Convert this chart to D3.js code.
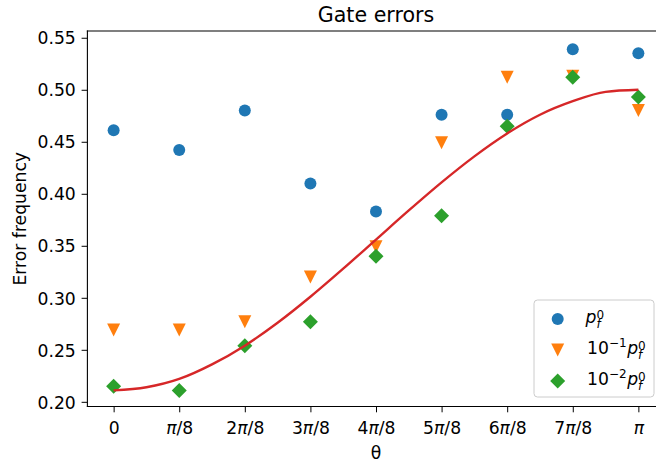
<!DOCTYPE html>
<html>
<head>
<meta charset="utf-8">
<script src="https://cdn.jsdelivr.net/npm/d3@7"></script>
<style>
  html, body { margin: 0; padding: 0; background: #fff; }
  svg { display: block; font-family: "DejaVu Sans", sans-serif; }
</style>
</head>
<body>
<svg id="chart" width="656" height="462"></svg>
<script>
// Gate angle in steps of π/8, with the tick labels shown under each step
const thetaSteps = [0, 1, 2, 3, 4, 5, 6, 7, 8];
const thetaLabels = ["0", "π/8", "2π/8", "3π/8", "4π/8", "5π/8", "6π/8", "7π/8", "π"];

// Measured error frequencies for the three noise scalings
const errP0    = [0.461, 0.442, 0.480, 0.410, 0.383, 0.476, 0.476, 0.539, 0.535];
const errP0e1  = [0.269, 0.269, 0.277, 0.320, 0.349, 0.449, 0.512, 0.513, 0.480];
const errP0e2  = [0.215, 0.211, 0.254, 0.277, 0.340, 0.379, 0.465, 0.512, 0.493];

// Expected error curve, sampled every π/16
const curveSteps  = [0, 1, 2, 3, 4, 5, 6, 7, 8, 9, 10, 11, 12, 13, 14, 15, 16];
const curveValues = [0.211, 0.214, 0.222, 0.236, 0.254, 0.276, 0.301, 0.328, 0.356,
                     0.384, 0.411, 0.436, 0.458, 0.476, 0.489, 0.498, 0.500];

const yTickValues = [0.20, 0.25, 0.30, 0.35, 0.40, 0.45, 0.50, 0.55];

(function () {
  // Frame
  const plotL = 87.4, plotR = 664.6, plotT = 31, plotB = 406.5;
  const fontSize = 17.2;
  const tick = 5.8, pad = 5.8;

  const svg = d3.select("#chart");

  const x = d3.scaleLinear()
    .domain([-0.05 * Math.PI, 1.05 * Math.PI])
    .range([plotL, plotR]);
  const y = d3.scaleLinear()
    .domain([0.1955, 0.5565])
    .range([plotB, plotT]);

  // Marker shapes
  const triangleDown = {
    draw(ctx, size) {
      const h = Math.sqrt(size) / 2;
      ctx.moveTo(-h, -h); ctx.lineTo(h, -h); ctx.lineTo(0, h); ctx.closePath();
    }
  };
  const diamond = {
    draw(ctx, size) {
      const r = Math.sqrt(size) / 2;
      ctx.moveTo(0, -r); ctx.lineTo(r, 0); ctx.lineTo(0, r); ctx.lineTo(-r, 0); ctx.closePath();
    }
  };

  const series = [
    { values: errP0,   color: "#1f77b4", type: d3.symbolCircle, size: Math.PI * 36, exp: null },
    { values: errP0e1, color: "#ff7f0e", type: triangleDown,    size: 169,          exp: "−1" },
    { values: errP0e2, color: "#2ca02c", type: diamond,         size: 225,          exp: "−2" }
  ];

  // Axes
  const xAxis = d3.axisBottom(x)
    .tickValues(thetaSteps.map(k => k * Math.PI / 8))
    .tickSize(tick).tickPadding(pad)
    .tickFormat((d, i) => thetaLabels[i]);
  const gx = svg.append("g").attr("transform", `translate(0,${plotB})`).call(xAxis);
  gx.select(".domain").remove();
  gx.selectAll(".tick line").attr("stroke", "#000").attr("stroke-width", 1);
  gx.selectAll(".tick text")
    .attr("fill", "#000")
    .attr("font-size", fontSize)
    .attr("font-family", "DejaVu Sans")
    .attr("y", 27.5).attr("dy", 0)
    .each(function (d, i) {
      const t = d3.select(this);
      const parts = thetaLabels[i].split("π");
      t.text(null);
      parts.forEach((p, j) => {
        if (j > 0) t.append("tspan").attr("font-style", "italic").text("π");
        if (p) t.append("tspan").text(p);
      });
    });

  const yAxis = d3.axisLeft(y)
    .tickValues(yTickValues)
    .tickSize(tick).tickPadding(pad)
    .tickFormat(d3.format(".2f"));
  const gy = svg.append("g").attr("transform", `translate(${plotL},0)`).call(yAxis);
  gy.select(".domain").remove();
  gy.selectAll(".tick line").attr("stroke", "#000").attr("stroke-width", 1);
  gy.selectAll(".tick text")
    .attr("fill", "#000")
    .attr("font-size", fontSize)
    .attr("font-family", "DejaVu Sans")
    .attr("dy", "0.36em");

  // Spines
  const spines = svg.append("g").attr("stroke", "#000").attr("stroke-width", 1.1)
    .attr("stroke-linecap", "square");
  spines.append("line").attr("x1", plotL).attr("x2", plotL).attr("y1", plotT).attr("y2", plotB);
  spines.append("line").attr("x1", plotL).attr("x2", plotR).attr("y1", plotT).attr("y2", plotT);
  spines.append("line").attr("x1", plotL).attr("x2", plotR).attr("y1", plotB).attr("y2", plotB);
  spines.append("line").attr("x1", plotR).attr("x2", plotR).attr("y1", plotT).attr("y2", plotB);

  // Data markers
  series.forEach(s => {
    svg.append("g").selectAll("path")
      .data(s.values)
      .join("path")
      .attr("transform", (v, i) => `translate(${x(thetaSteps[i] * Math.PI / 8)},${y(v)})`)
      .attr("d", d3.symbol().type(s.type).size(s.size))
      .attr("fill", s.color);
  });

  // Expected curve
  const line = d3.line()
    .x(k => x(k * Math.PI / 16))
    .y((k, i) => y(curveValues[i]))
    .curve(d3.curveMonotoneX);
  svg.append("path")
    .datum(curveSteps)
    .attr("d", line)
    .attr("fill", "none")
    .attr("stroke", "#d62728")
    .attr("stroke-width", 2.4);

  // Titles
  svg.append("text")
    .attr("x", (plotL + plotR) / 2).attr("y", 21.5)
    .attr("text-anchor", "middle")
    .attr("font-size", 20.6)
    .text("Gate errors");
  svg.append("text")
    .attr("x", (plotL + plotR) / 2).attr("y", 459)
    .attr("text-anchor", "middle")
    .attr("font-size", fontSize)
    .text("θ");
  svg.append("text")
    .attr("transform", `translate(26,${(plotT + plotB) / 2}) rotate(-90)`)
    .attr("text-anchor", "middle")
    .attr("font-size", fontSize)
    .text("Error frequency");

  // Legend
  const lg = svg.append("g");
  lg.append("rect")
    .attr("x", 534).attr("y", 300).attr("width", 120).attr("height", 97)
    .attr("rx", 3.5)
    .attr("fill", "#fff").attr("fill-opacity", 0.8)
    .attr("stroke", "#cccccc").attr("stroke-width", 1);

  const rowY = [319, 350, 381];
  const small = fontSize * 0.7;
  series.forEach((s, i) => {
    const cy = rowY[i];
    lg.append("path")
      .attr("transform", `translate(557.7,${cy})`)
      .attr("d", d3.symbol().type(s.type).size(s.size))
      .attr("fill", s.color);

    // One text per entry: 10^{exp} p_f^0, with sub- and superscript stacked
    const t = lg.append("text")
      .attr("x", s.exp ? 587 : 585.5)
      .attr("y", cy + 4.4)
      .attr("font-size", fontSize);
    let shift = 0;
    if (s.exp) {
      t.append("tspan").text("10");
      t.append("tspan").attr("font-size", small).attr("dy", -7.2).text(s.exp);
      shift = -7.2;
    }
    t.append("tspan").attr("font-style", "italic").attr("dx", s.exp ? 0.5 : 0)
      .attr("dy", -shift).text("p");
    t.append("tspan").attr("font-size", small).attr("dy", -4.8).text("0");
    const node = t.node();
    const idx = node.textContent.length - 1;
    const supX = node.getStartPositionOfChar(idx).x;
    t.append("tspan").attr("font-size", small).attr("font-style", "italic")
      .attr("x", supX).attr("dy", 9.6).text("f");
  });
})();
</script>
</body>
</html>
